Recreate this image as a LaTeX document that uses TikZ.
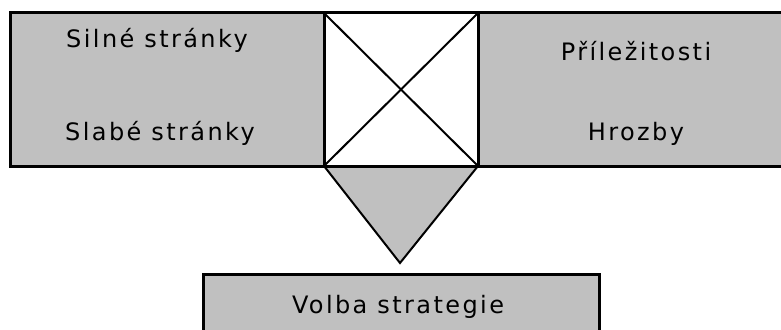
\documentclass[tikz,border=0pt]{standalone}
\usepackage{fontspec}
\setmainfont{DejaVu Sans}[LetterSpace=10]
\definecolor{boxgray}{RGB}{192,192,192}
\tikzset{
  frame/.style={draw=black, line width=3pt},
  thin/.style={draw=black, line width=2pt},
  lbl/.style={anchor=base, inner sep=0pt, font=\fontsize{24}{28}\selectfont}
}
\begin{document}
\begin{tikzpicture}[x=1pt,y=-1pt]
\useasboundingbox (0,0) rectangle (781,329);
\clip (0,0) rectangle (781,329);
% top band
\coordinate (bandNW) at (10,13);
\coordinate (bandSE) at (800,166);
\coordinate (sqNW) at (324,13);
\coordinate (sqSE) at (478,166);
\coordinate (sqNE) at (478,13);
\coordinate (sqSW) at (324,166);
\coordinate (apex) at (400,263);
\fill[boxgray] (bandNW) rectangle (bandSE);
% triangle
\filldraw[fill=boxgray, thin, line join=miter] (sqSW) -- (apex) -- (sqSE) -- cycle;
% square
\fill[white] (sqNW) rectangle (sqSE);
\draw[thin] (sqNW) -- (sqSE);
\draw[thin] (sqNE) -- (sqSW);
\draw[frame] (sqNW) -- (sqSW);
\draw[frame] (sqNE) -- (sqSE);
\draw[frame] (bandNW) rectangle (bandSE);
% bottom box
\coordinate (volNW) at (203,274);
\coordinate (volSE) at (599,360);
\filldraw[fill=boxgray, frame] (volNW) rectangle (volSE);
% labels
\node[lbl] (silne) at (157,48) {Silné stránky};
\node[lbl] (slabe) at (160,140) {Slabé stránky};
\node[lbl] (prilez) at (636,60) {Příležitosti};
\node[lbl] (hrozby) at (636,140) {Hrozby};
\node[lbl] (volba) at (398,313) {Volba strategie};
\end{tikzpicture}
\end{document}
